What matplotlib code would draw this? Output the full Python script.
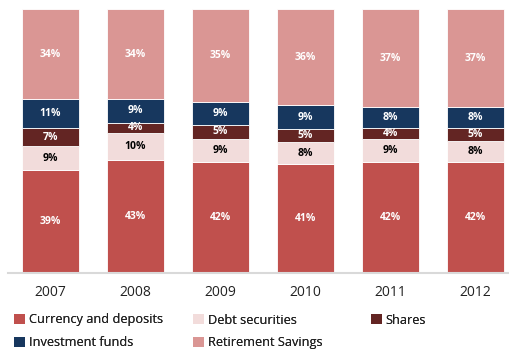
import matplotlib
matplotlib.use("Agg")
import matplotlib.pyplot as plt
from matplotlib.patches import Patch
import numpy as np

years = ["2007", "2008", "2009", "2010", "2011", "2012"]
currency = [39, 43, 42, 41, 42, 42]
debt = [9, 10, 9, 8, 9, 8]
shares = [7, 4, 5, 5, 4, 5]
funds = [11, 9, 9, 9, 8, 8]
retirement = [34, 34, 35, 36, 37, 37]

series = [
    ("Currency and deposits", currency, "#C0504D", "white"),
    ("Debt securities", debt, "#F2DCDB", "black"),
    ("Shares", shares, "#632523", "white"),
    ("Investment funds", funds, "#17375E", "white"),
    ("Retirement Savings", retirement, "#DA9694", "white"),
]

plt.rcParams['font.family'] = ['Open Sans', 'DejaVu Sans']

fig = plt.figure(figsize=(5.10, 3.49), dpi=100)
ax = fig.add_axes([8/510, 1 - 273/349, 1 - 8/510, (273 - 9.3)/349])

x = np.arange(len(years))
totals = np.sum([s[1] for s in series], axis=0)
bottom = np.zeros(len(years))
handles = []
for name, vals, color, tcol in series:
    v = np.array(vals, dtype=float) / totals * 100
    ax.bar(x, v, width=0.67, bottom=bottom, color=color,
           edgecolor="white", linewidth=0.6, label=name)
    for xi, b, h, lab in zip(x, bottom, v, vals):
        ax.text(xi, b + h / 2, f"{lab}%", ha="center", va="center",
                color=tcol, fontsize=7.5, fontweight="bold")
    bottom += v
    handles.append(Patch(facecolor=color, label=name))

ax.set_xlim(-0.5, 5.41)
ax.set_ylim(0, 100)
ax.set_xticks(x)
ax.set_xticklabels(years, fontsize=10, color="#222222")
ax.tick_params(axis="x", length=0, pad=9)
ax.set_yticks([])
for sp in ["top", "right", "left"]:
    ax.spines[sp].set_visible(False)
ax.spines["bottom"].set_color("#D9D9D9")
ax.spines["bottom"].set_linewidth(1.5)

cols = [[handles[0], handles[3]], [handles[1], handles[4]], [handles[2]]]
xs = [16, 195, 373]
for hs, xp in zip(cols, xs):
    leg = fig.legend(handles=hs, loc="upper left",
                     bbox_to_anchor=(xp/510 - 0.003, 1 - 313.5/349),
                     frameon=False, fontsize=9.2, handlelength=0.8,
                     handleheight=0.8, handletextpad=0.3,
                     labelspacing=0.75, borderpad=0, borderaxespad=0)
    for t in leg.get_texts():
        t.set_color("#222222")
    fig.add_artist(leg)

fig.savefig("out.png", dpi=100)
